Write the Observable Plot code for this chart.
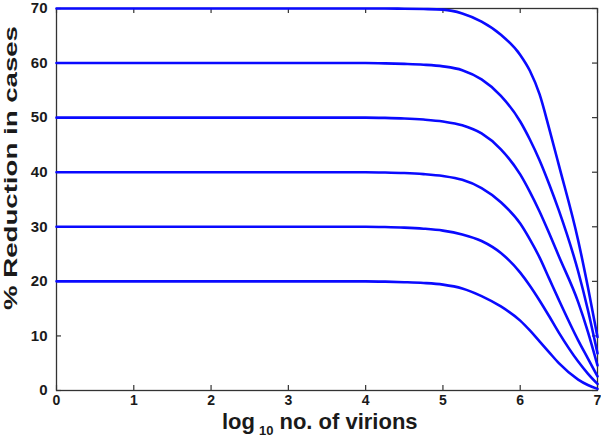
<!DOCTYPE html>
<html><head><meta charset="utf-8">
<script src="https://cdn.jsdelivr.net/npm/d3@7"></script>
<script src="https://cdn.jsdelivr.net/npm/@observablehq/plot@0.6"></script>
<style>body{margin:0;background:#fff} svg{display:block}</style>
</head><body><div id="chart"></div>
<script>
// log10 number of virions (x positions)
const xs  = [0, 4, 4.25, 4.5, 4.75, 5, 5.25, 5.5, 5.75, 6, 6.125, 6.25, 6.375, 6.5, 6.75, 6.875, 7];
// % reduction in cases, one curve per baseline efficacy
const r20 = [20, 20, 19.95, 19.85, 19.7, 19.4, 18.7, 17.3, 15.4, 12.8, 11.0, 9.0, 7.0, 5.0, 2.0, 1.0, 0.3];
const r30 = [30, 30, 29.95, 29.85, 29.65, 29.3, 28.6, 27.4, 25.2, 21.6, 19.2, 16.5, 13.6, 10.6, 5.3, 3.1, 1.2];
const r40 = [40, 40, 39.95, 39.85, 39.65, 39.3, 38.6, 37.1, 34.5, 30.6, 27.7, 24.4, 20.5, 16.6, 9.2, 5.9, 2.6];
const r50 = [50, 50, 49.95, 49.85, 49.65, 49.3, 48.6, 47.1, 44.2, 39.6, 36.4, 32.8, 28.8, 24.6, 16.2, 10.8, 4.6];
const r60 = [60, 60, 59.95, 59.85, 59.7, 59.4, 58.7, 57.0, 54.0, 49.3, 46.0, 42.2, 37.8, 33.0, 21.8, 14.8, 6.8];
const r70 = [70, 70, 70, 69.95, 69.9, 69.8, 69.1, 67.6, 65.2, 61.5, 58.6, 54.3, 48.0, 41.3, 27.5, 19.0, 9.8];
const seriesNames = ["20", "30", "40", "50", "60", "70"];
const seriesValues = [r20, r30, r40, r50, r60, r70];
const xTicks = [0, 1, 2, 3, 4, 5, 6, 7];
const yTicks = [0, 10, 20, 30, 40, 50, 60, 70];
const xLabelMain = "log";
const xLabelSub = "10";
const xLabelRest = "no. of virions";
const yLabel = "% Reduction in cases";

const data = seriesValues.flatMap((vals, i) =>
  vals.map((v, j) => ({series: seriesNames[i], x: xs[j], y: v})));

const W = 601, H = 440, mL = 56, mR = 4, mT = 8, mB = 50;
const innerW = W - mL - mR, innerH = H - mT - mB;
const tk = 5;
const axisColor = "#333";

const chart = Plot.plot({
  width: W, height: H,
  marginLeft: mL, marginRight: mR, marginTop: mT, marginBottom: mB,
  style: {fontFamily: "'Liberation Sans', Arial, sans-serif", fontWeight: "bold", color: "#1a1a1a", background: "#fff", overflow: "visible"},
  x: {domain: [0, 7]},
  y: {domain: [0, 70]},
  marks: [
    Plot.frame({stroke: axisColor, strokeWidth: 1.3}),
    Plot.tickX(xTicks, {x: d => d, insetTop: innerH - tk, stroke: axisColor, strokeWidth: 1.2}),
    Plot.tickX(xTicks, {x: d => d, insetBottom: innerH - tk, stroke: axisColor, strokeWidth: 1.2}),
    Plot.tickY(yTicks, {y: d => d, insetRight: innerW - tk, stroke: axisColor, strokeWidth: 1.2}),
    Plot.tickY(yTicks, {y: d => d, insetLeft: innerW - tk, stroke: axisColor, strokeWidth: 1.2}),
    Plot.line(data, {x: "x", y: "y", z: "series", stroke: "#0a0aff", strokeWidth: 2.6, curve: "monotone-x"}),
    Plot.axisX(xTicks, {tickSize: 0, tickPadding: 5, fontSize: 14, label: null}),
    Plot.axisY(yTicks, {tickSize: 0, tickPadding: 9, fontSize: 15, label: null})
  ]
});
document.getElementById("chart").append(chart);

const svg = d3.select(chart);
// y axis label
svg.append("text")
  .attr("transform", "translate(17,310) rotate(-90)")
  .attr("text-anchor", "start")
  .attr("font-size", 19)
  .attr("font-weight", "bold")
  .attr("fill", "#1a1a1a")
  .attr("textLength", 284)
  .attr("lengthAdjust", "spacingAndGlyphs")
  .text(yLabel);
// x axis label with subscript
const xl = svg.append("text")
  .attr("x", 222).attr("y", 429)
  .attr("text-anchor", "start")
  .attr("font-size", 22)
  .attr("font-weight", "bold")
  .attr("fill", "#1a1a1a");
xl.append("tspan").text(xLabelMain);
xl.append("tspan").attr("dx", 4).attr("dy", 6).attr("font-size", 13).text(xLabelSub);
xl.append("tspan").attr("dx", 6).attr("dy", -6).text(xLabelRest);
</script>
</body></html>
